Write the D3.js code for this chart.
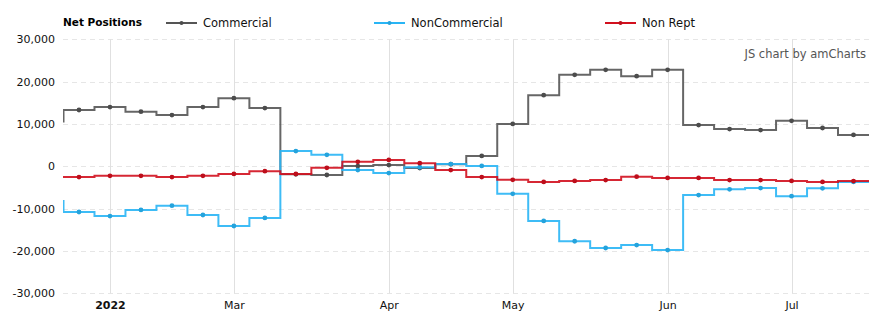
<!DOCTYPE html>
<html>
<head>
<meta charset="utf-8">
<script src="https://cdn.jsdelivr.net/npm/d3@7"></script>
<style>
  html, body { margin: 0; padding: 0; background: #fff; }
  svg { display: block; font-family: "DejaVu Sans", Verdana, sans-serif; }
</style>
</head>
<body>
<svg id="chart" width="884" height="328"></svg>
<script>
// Report weeks (the first entry sits just left of the visible range)
const weeks = [
  "2021-12-07", "2021-12-21", "2022-01-04", "2022-01-18", "2022-02-01", "2022-02-15",
  "2022-03-01", "2022-03-08", "2022-03-15", "2022-03-22", "2022-03-29",
  "2022-04-05", "2022-04-12", "2022-04-19", "2022-04-26",
  "2022-05-03", "2022-05-10", "2022-05-17", "2022-05-24", "2022-05-31",
  "2022-06-07", "2022-06-14", "2022-06-21", "2022-06-28",
  "2022-07-05", "2022-07-12", "2022-07-19"
];

const commercial = [
  10600, 13300, 14000, 12900, 12100, 14000, 16100, 13750, -1900, -2050, 50,
  300, -400, 500, 2450, 10000, 16800, 21600, 22800, 21300, 22800,
  9750, 8800, 8550, 10750, 9050, 7400
];
const nonCommercial = [
  -8200, -10800, -11750, -10300, -9300, -11500, -14100, -12200, 3600, 2700, -900,
  -1600, -200, 520, 100, -6500, -12900, -17700, -19300, -18600, -19800,
  -6800, -5450, -5150, -7050, -5200, -3700
];
const nonRept = [
  -2500, -2550, -2250, -2250, -2550, -2250, -1800, -1150, -1800, -350, 1050,
  1500, 750, -900, -2550, -3200, -3700, -3450, -3250, -2450, -2750,
  -2750, -3250, -3250, -3450, -3700, -3500
];

const seriesNames = ["Commercial", "NonCommercial", "Non Rept"];
const seriesColors = ["#555555", "#29b5f5", "#d2101e"];
const seriesValues = [commercial, nonCommercial, nonRept];

const yTicks = [-30000, -20000, -10000, 0, 10000, 20000, 30000];
const xTickWeeks = ["2022-01-04", "2022-03-01", "2022-04-05", "2022-05-03", "2022-06-07", "2022-07-05"];
const xTickLabels = ["2022", "Mar", "Apr", "May", "Jun", "Jul"];

const legendTitle = "Net Positions";
const creditText = "JS chart by amCharts";

// ---- layout ----
const plot = { left: 63, right: 869, top: 39.3, bottom: 293.3 };
const svg = d3.select("#chart");

// index-based axis: visible weeks are 1..26, each occupying one step
const x = d3.scaleLinear().domain([0.5, weeks.length - 0.5]).range([plot.left + 0.5, plot.right]);
const y = d3.scaleLinear().domain([-30000, 30000]).range([plot.bottom, plot.top]);

// thousands separator with a plain hyphen for negatives
const fmt = d3.formatLocale({ decimal: ".", thousands: ",", grouping: [3], currency: ["$", ""], minus: "-" }).format(",");

// horizontal dashed grid
svg.append("g")
  .selectAll("line")
  .data(yTicks)
  .join("line")
  .attr("x1", plot.left).attr("x2", plot.right)
  .attr("y1", d => Math.round(y(d)) + 0.5).attr("y2", d => Math.round(y(d)) + 0.5)
  .attr("stroke", "#e6e6e6")
  .attr("stroke-dasharray", "5,4");

// vertical grid at the month ticks
const xTickIdx = xTickWeeks.map(w => weeks.indexOf(w));
svg.append("g")
  .selectAll("line")
  .data(xTickIdx)
  .join("line")
  .attr("x1", d => Math.round(x(d)) + 0.5).attr("x2", d => Math.round(x(d)) + 0.5)
  .attr("y1", plot.top).attr("y2", plot.bottom)
  .attr("stroke", "#e0e0e0");

// y axis labels
const yAxis = d3.axisLeft(y).tickValues(yTicks).tickFormat(fmt).tickSize(0).tickPadding(0);
const gy = svg.append("g").attr("transform", `translate(${plot.left - 8},0)`).call(yAxis);
gy.select(".domain").remove();
gy.selectAll("text").attr("font-size", 11).attr("fill", "#111")
  .attr("font-family", "'DejaVu Sans', Verdana, sans-serif");

// x axis labels
const xAxis = d3.axisBottom(x).tickValues(xTickIdx)
  .tickFormat((d, i) => xTickLabels[i]).tickSize(0).tickPadding(0);
const gx = svg.append("g").attr("transform", `translate(0,${plot.bottom + 8})`).call(xAxis);
gx.select(".domain").remove();
gx.selectAll("text").attr("font-size", 11).attr("fill", "#111")
  .attr("font-family", "'DejaVu Sans', Verdana, sans-serif")
  .attr("font-weight", (d, i) => i === 0 ? "bold" : "normal");

// clip region for the series
svg.append("clipPath").attr("id", "plotClip")
  .append("rect")
  .attr("x", plot.left).attr("y", plot.top - 5)
  .attr("width", plot.right - plot.left).attr("height", plot.bottom - plot.top + 10);

const series = svg.append("g").attr("clip-path", "url(#plotClip)");

seriesValues.forEach((vals, s) => {
  // extend the last step by half a week to the plot edge
  const ext = vals.concat([vals[vals.length - 1]]);
  const g = series.append("g");
  g.append("path")
    .datum(ext)
    .attr("d", d3.line()
      .x((d, i) => i < vals.length ? x(i) : x(vals.length - 1) + (x(1) - x(0)))
      .y(d => y(d))
      .curve(d3.curveStep))
    .attr("fill", "none")
    .attr("stroke", seriesColors[s])
    .attr("stroke-width", 2)
    .attr("stroke-opacity", 0.9);
  g.selectAll("circle")
    .data(vals)
    .join("circle")
    .attr("cx", (d, i) => x(i))
    .attr("cy", d => y(d))
    .attr("r", 2.4)
    .attr("fill", d3.color(seriesColors[s]).darker(0.3));
});

// legend
const legend = svg.append("g").attr("font-family", "'DejaVu Sans', Verdana, sans-serif");
legend.append("text")
  .attr("x", 63).attr("y", 26)
  .attr("font-size", 10.5).attr("font-weight", "bold").attr("fill", "#000")
  .text(legendTitle);

const legendX = [166, 374, 605];
seriesNames.forEach((name, s) => {
  const lg = legend.append("g").attr("transform", `translate(${legendX[s]},23)`);
  lg.append("line").attr("x1", 0).attr("x2", 31).attr("y1", 0).attr("y2", 0)
    .attr("stroke", seriesColors[s]).attr("stroke-width", 2);
  lg.append("circle").attr("cx", 15.5).attr("cy", 0).attr("r", 2)
    .attr("fill", d3.color(seriesColors[s]).darker(0.3));
  lg.append("text").attr("x", 37).attr("y", 3.5)
    .attr("font-size", 11.5).attr("fill", "#111").text(name);
});

// credit
svg.append("text")
  .attr("x", 866).attr("y", 58)
  .attr("text-anchor", "end")
  .attr("font-size", 11.5).attr("fill", "#555")
  .attr("font-family", "'DejaVu Sans', Verdana, sans-serif")
  .text(creditText);
</script>
</body>
</html>
